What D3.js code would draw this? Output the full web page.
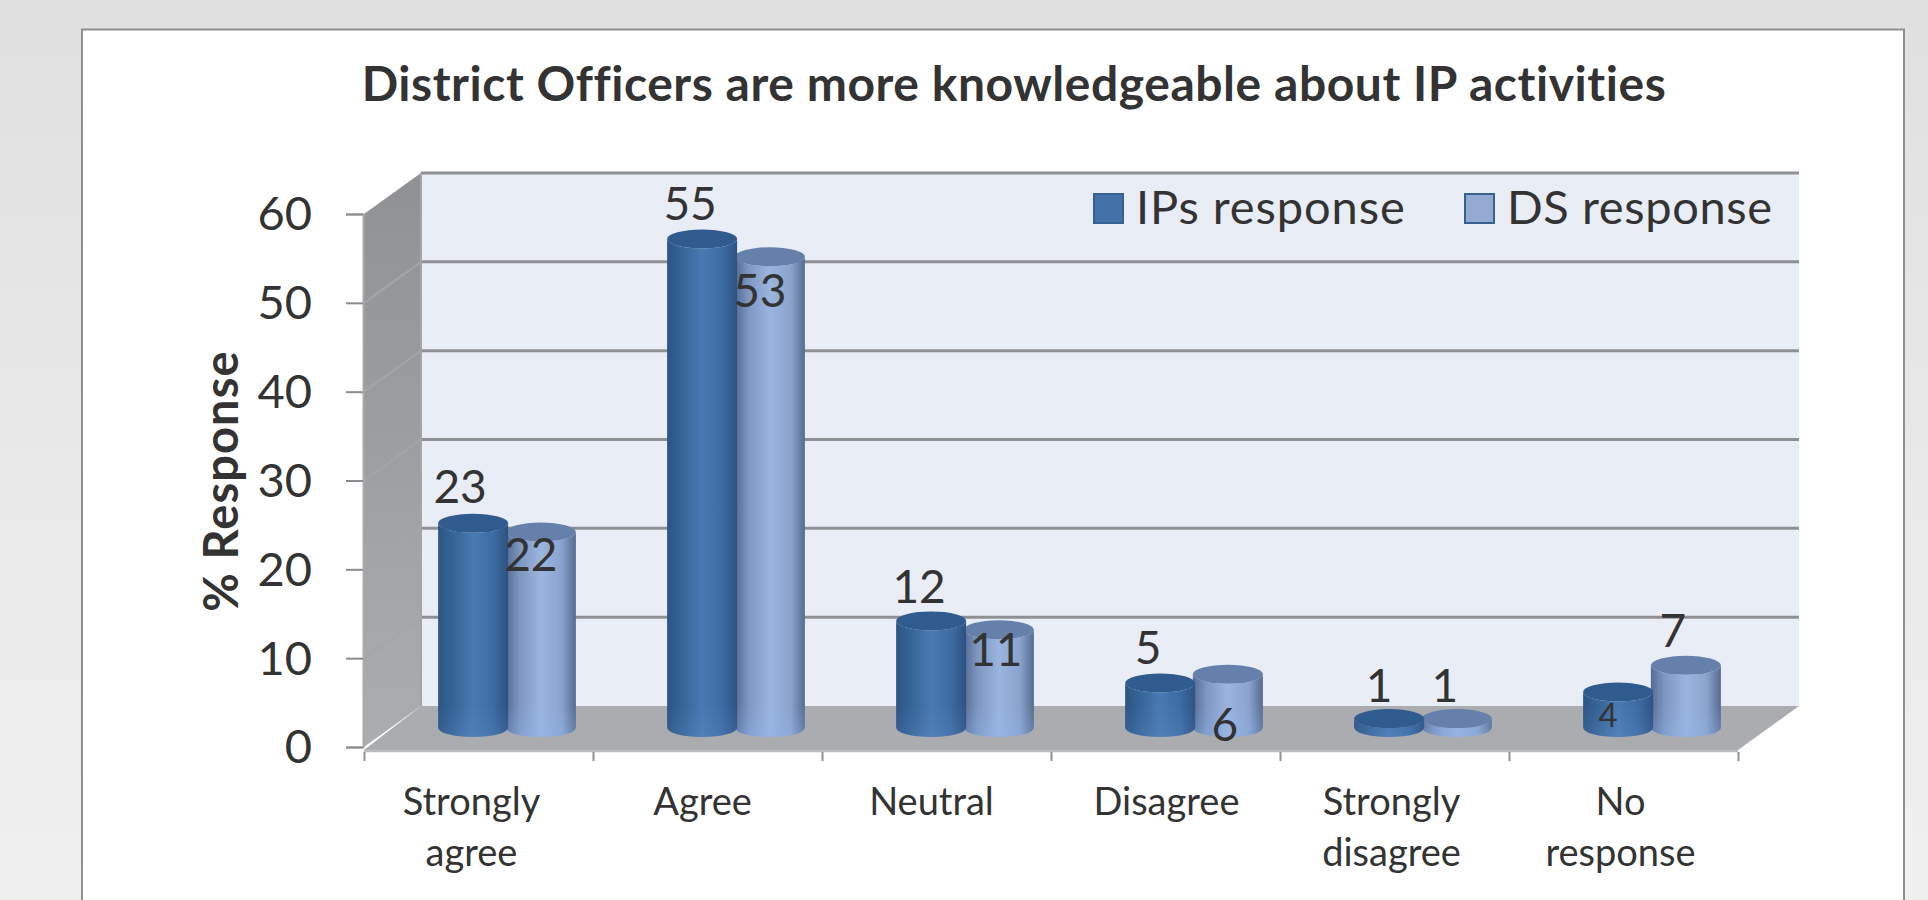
<!DOCTYPE html>
<html>
<head>
<meta charset="utf-8">
<script src="https://cdnjs.cloudflare.com/ajax/libs/d3/7.9.0/d3.min.js"></script>
<style>
  html, body { margin: 0; padding: 0; background: #e8e8e8; overflow: hidden; }
  svg { display: block; }
  text { font-family: Lato, "Open Sans", sans-serif; fill: #333; font-variant-ligatures: none; }
</style>
</head>
<body>
<svg id="chart" width="1928" height="900"></svg>
<script>
const categories = [["Strongly", "agree"], ["Agree"], ["Neutral"], ["Disagree"], ["Strongly", "disagree"], ["No", "response"]];
const ipsResponse = [23, 55, 12, 5, 1, 4];
const dsResponse = [22, 53, 11, 6, 1, 7];
const seriesNames = ["IPs response", "DS response"];
const valueTicks = [0, 10, 20, 30, 40, 50, 60];

// Hand placement of each data label relative to its cylinder's top centre
const ipsLabelNudge = [[-13, -36], [-12, -35], [-12, -34], [-12, -35], [-10, -32], [-10, 24]];
const dsLabelNudge = [[-10, 23], [-10, 35], [-3, 21], [-3, 51], [-12, -32], [-13, -34]];
const categoryLabelNudge = [-4, -2, -2, 4, 0, 0];

const svg = d3.select("#chart");
const defs = svg.append("defs");

const frontLeft = 364, frontRight = 1738, frontBase = 747, frontTop = 214;
const depthX = 57, depthY = -41;
const midX = depthX / 2, midY = -19.5;

const y = d3.scaleLinear().domain([0, 60]).range([frontBase, frontTop]);
const slot = d3.scaleBand().domain(d3.range(categories.length)).range([frontLeft, frontRight]);
const inner = d3.scaleBand().domain([0, 1]).range([0, slot.step()]).paddingInner(0).paddingOuter(0.69);

// Page backdrop and card
const backGrad = defs.append("linearGradient").attr("id", "pageBg").attr("x1", 0).attr("x2", 0).attr("y1", 0).attr("y2", 1);
backGrad.append("stop").attr("offset", 0).attr("stop-color", "#e0e0e0");
backGrad.append("stop").attr("offset", 1).attr("stop-color", "#f0f0f0");
svg.append("rect").attr("width", 1928).attr("height", 900).attr("fill", "url(#pageBg)");
svg.append("rect").attr("x", 82).attr("y", 29.5).attr("width", 1822).attr("height", 900)
  .attr("fill", "#fff").attr("stroke", "#8f8f8f").attr("stroke-width", 2);

// Back wall
svg.append("rect")
  .attr("x", frontLeft + depthX).attr("y", y(60) + depthY)
  .attr("width", frontRight - frontLeft + 4).attr("height", y(0) - y(60))
  .attr("fill", "#e9edf6");

// Side wall shading
const wallGrad = defs.append("linearGradient").attr("id", "wall").attr("x1", 0).attr("x2", 0).attr("y1", 0).attr("y2", 1);
wallGrad.append("stop").attr("offset", 0).attr("stop-color", "#8f9194");
wallGrad.append("stop").attr("offset", 1).attr("stop-color", "#acadaf");
const corner = (v, d) => [frontLeft + d * depthX, y(v) + d * depthY];
svg.append("polygon")
  .attr("points", [corner(60, 0), corner(60, 1), corner(0, 1), corner(0, 0)].join(" "))
  .attr("fill", "url(#wall)");

// Gridlines run along the side wall and across the back wall
const grid = svg.append("g").attr("fill", "none");
grid.selectAll(".side").data(valueTicks.slice(1, -1)).join("line").attr("class", "side")
  .attr("x1", frontLeft).attr("y1", d => y(d))
  .attr("x2", frontLeft + depthX).attr("y2", d => y(d) + depthY)
  .attr("stroke", "#a4a5a8").attr("stroke-width", 2);
grid.selectAll(".back").data(valueTicks.slice(1)).join("line").attr("class", "back")
  .attr("x1", frontLeft + depthX).attr("y1", d => y(d) + depthY)
  .attr("x2", frontRight + depthX + 4).attr("y2", d => y(d) + depthY)
  .attr("stroke", "#8f9094").attr("stroke-width", 3);
svg.append("line")
  .attr("x1", frontLeft + depthX).attr("y1", y(60) + depthY)
  .attr("x2", frontLeft + depthX).attr("y2", y(0) + depthY)
  .attr("stroke", "#a4a5a8").attr("stroke-width", 2);

// Floor with its thin front edge
svg.append("polygon")
  .attr("points", [[frontLeft, y(0) + 3], [frontLeft + depthX, y(0) + depthY], [frontRight + depthX + 4, y(0) + depthY], [frontRight, y(0) + 3]].join(" "))
  .attr("fill", "#aaacaf");
svg.append("line")
  .attr("x1", frontLeft).attr("y1", y(0) + 4).attr("x2", frontRight).attr("y2", y(0) + 4)
  .attr("stroke", "#bcbdbe").attr("stroke-width", 2.5);

// Cylinder body shading, one horizontal ramp per series
function bodyGradient(id, stops) {
  const g = defs.append("linearGradient").attr("id", id).attr("x1", 0).attr("x2", 1).attr("y1", 0).attr("y2", 0);
  stops.forEach(([o, c]) => g.append("stop").attr("offset", o).attr("stop-color", c));
}
bodyGradient("ipsBody", [[0, "#2c5485"], [0.22, "#376598"], [0.5, "#4879b2"], [0.78, "#3c6ca4"], [1, "#2d5282"]]);
bodyGradient("dsBody", [[0, "#556c94"], [0.2, "#7f98c2"], [0.5, "#9ab5df"], [0.8, "#8aa3cc"], [1, "#566b8f"]]);

const rx = 35, ry = 9.5;
const seriesStyle = [
  { body: "url(#ipsBody)", top: "#2f5b8f", glow: 0.12, values: ipsResponse, nudge: ipsLabelNudge, key: 0 },
  { body: "url(#dsBody)", top: "#6580ab", glow: 0.3, values: dsResponse, nudge: dsLabelNudge, key: 1 }
];
const cx = (s, i) => slot(i) + inner(s.key) + inner.bandwidth() / 2 + midX;
const cyPos = v => y(v) + midY;

// Bounce light near the foot of each cylinder
const footGlow = defs.append("linearGradient").attr("id", "footGlow")
  .attr("gradientUnits", "userSpaceOnUse")
  .attr("x1", 0).attr("x2", 0).attr("y1", cyPos(0) - 22).attr("y2", cyPos(0) + ry);
footGlow.append("stop").attr("offset", 0).attr("stop-color", "#8fb4f2").attr("stop-opacity", 0);
footGlow.append("stop").attr("offset", 1).attr("stop-color", "#8fb4f2").attr("stop-opacity", 1);

// Lighter series goes first so the darker one overlaps it
const bars = svg.append("g");
[seriesStyle[1], seriesStyle[0]].forEach(s => {
  const g = bars.append("g");
  s.values.forEach((v, i) => {
    const c = cx(s, i), t = cyPos(v), b = cyPos(0);
    const shape = `M${c - rx},${t}L${c - rx},${b}A${rx},${ry} 0 0 0 ${c + rx},${b}L${c + rx},${t}A${rx},${ry} 0 0 1 ${c - rx},${t}Z`;
    g.append("path").attr("d", shape).attr("fill", s.body);
    g.append("path").attr("d", shape).attr("fill", "url(#footGlow)").attr("fill-opacity", s.glow);
    g.append("ellipse").attr("cx", c).attr("cy", t).attr("rx", rx).attr("ry", ry).attr("fill", s.top);
  });
});

// Value axis
const yAxis = svg.append("g").attr("transform", `translate(${frontLeft - 1},0)`)
  .call(d3.axisLeft(y).tickValues(valueTicks).tickSize(17).tickPadding(34).tickFormat(d3.format("d")));
yAxis.select(".domain").attr("stroke", "#a9aaac").attr("stroke-width", 2);
yAxis.selectAll(".tick line").attr("stroke", "#8a8b8e").attr("stroke-width", 2);
yAxis.selectAll("text").attr("font-size", 47).attr("dy", "0.34em");

// Category axis: ticks at slot boundaries, wrapped labels at slot centres
const xTickScale = d3.scaleLinear().domain([0, categories.length]).range([frontLeft, frontRight]);
const xAxis = svg.append("g").attr("transform", `translate(0,${frontBase + 5})`)
  .call(d3.axisBottom(xTickScale).tickValues(d3.range(categories.length + 1)).tickSize(9).tickFormat(""));
xAxis.select(".domain").remove();
xAxis.selectAll(".tick line").attr("stroke", "#8f9094").attr("stroke-width", 2);

const catLabels = svg.append("g");
categories.forEach((lines, i) => {
  const t = catLabels.append("text").attr("text-anchor", "middle").attr("font-size", 38);
  lines.forEach((line, j) => {
    t.append("tspan")
      .attr("x", slot(i) + slot.step() / 2 - 3 + categoryLabelNudge[i])
      .attr("y", 815 + j * 51)
      .text(line);
  });
});

// Titles
svg.append("text").attr("x", 1014).attr("y", 101).attr("text-anchor", "middle")
  .attr("font-size", 48).attr("font-weight", 700).attr("letter-spacing", 0.55)
  .text("District Officers are more knowledgeable about IP activities");
svg.append("text").attr("transform", "translate(238,481) rotate(-90)").attr("text-anchor", "middle")
  .attr("font-size", 47).attr("font-weight", 700).attr("letter-spacing", 1.1).text("% Response");

// Data labels
seriesStyle.forEach(s => {
  s.values.forEach((v, i) => {
    const [nx, ny] = s.nudge[i];
    svg.append("text")
      .attr("x", cx(s, i) + nx).attr("y", cyPos(v) + ny).attr("dy", "0.34em")
      .attr("text-anchor", "middle").attr("font-size", v === 4 ? 33 : 46).text(v);
  });
});

// Legend
const legendItems = [
  { name: seriesNames[0], x: 1093, fill: "#4472a8", stroke: "#35608f", spacing: 0.9 },
  { name: seriesNames[1], x: 1464, fill: "#95aad2", stroke: "#35608f", spacing: 0.6 }
];
const legend = svg.append("g");
legendItems.forEach(d => {
  legend.append("rect").attr("x", d.x + 1).attr("y", 194).attr("width", 29).attr("height", 29)
    .attr("fill", d.fill).attr("stroke", d.stroke).attr("stroke-width", 2);
  legend.append("text").attr("x", d.x + 43).attr("y", 224).attr("font-size", 47).attr("letter-spacing", d.spacing).text(d.name);
});
</script>
</body>
</html>
